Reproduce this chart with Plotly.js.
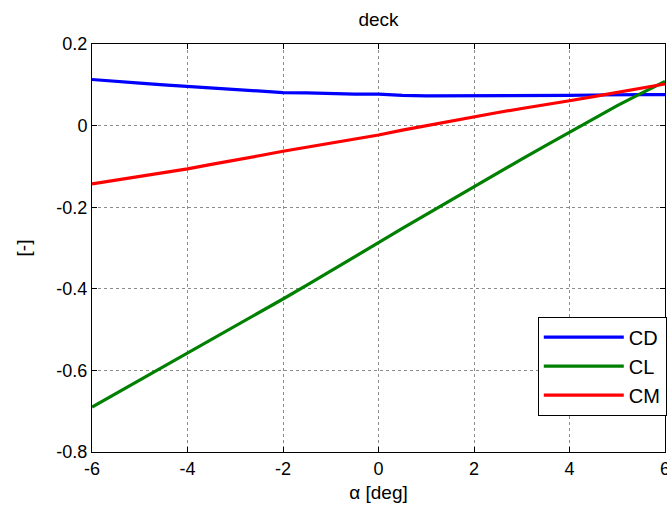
<!DOCTYPE html>
<html>
<head>
<meta charset="utf-8">
<script src="https://cdn.plot.ly/plotly-3.0.1.min.js"></script>
<style>html,body{margin:0;padding:0;background:#fff;}#chart{width:667px;height:514px;}</style>
</head>
<body>
<div id="chart"></div>
<script>
const alpha = [-6,-5.5,-5,-4.5,-4,-3.5,-3,-2.5,-2,-1.5,-1,-0.5,0,0.5,1,1.5,2,2.5,3,3.5,4,4.5,5,5.5,6];
const CD = [0.113,0.108,0.104,0.100,0.096,0.092,0.088,0.085,0.081,0.080,0.078,0.077,0.077,0.074,0.073,0.073,0.073,0.073,0.073,0.073,0.074,0.075,0.076,0.076,0.076];
const CL = [-0.690,-0.657,-0.624,-0.591,-0.559,-0.525,-0.491,-0.458,-0.425,-0.391,-0.357,-0.322,-0.287,-0.252,-0.218,-0.183,-0.148,-0.115,-0.082,-0.049,-0.016,0.017,0.049,0.079,0.108];
const CM = [-0.143,-0.134,-0.125,-0.116,-0.106,-0.095,-0.085,-0.074,-0.063,-0.053,-0.043,-0.033,-0.023,-0.011,0.000,0.011,0.022,0.032,0.042,0.051,0.061,0.071,0.081,0.092,0.102];
const xTicks = [-6,-4,-2,0,2,4,6];
const yTicks = [-0.8,-0.6,-0.4,-0.2,0,0.2];
const yTickText = ['-0.8','-0.6','-0.4','-0.2','0','0.2'];

const font = 'Liberation Sans, Arial, sans-serif';
const traces = [
  {x: alpha, y: CD, name: 'CD', mode: 'lines', line: {color: '#0000ff', width: 3.2}},
  {x: alpha, y: CL, name: 'CL', mode: 'lines', line: {color: '#008000', width: 3.2}},
  {x: alpha, y: CM, name: 'CM', mode: 'lines', line: {color: '#ff0000', width: 3.2}}
];
const axisCommon = {
  showline: true, linecolor: '#000', linewidth: 1, mirror: 'ticks',
  ticks: 'inside', ticklen: 5, tickwidth: 1, tickcolor: '#000',
  showgrid: true, gridcolor: '#8c8c8c', griddash: 'dot', gridwidth: 1,
  zeroline: false, tickfont: {family: font, size: 18, color: '#000'},
  ticklabeloverflow: 'allow', automargin: false
};
const layout = {
  width: 667, height: 514,
  margin: {l: 92, r: 2, t: 44, b: 62, autoexpand: false},
  paper_bgcolor: '#fff', plot_bgcolor: '#fff',
  showlegend: true,
  title: {text: 'deck', font: {family: font, size: 19, color: '#000'}, x: 0.5, xref: 'paper', y: 0.962, yref: 'container', yanchor: 'middle'},
  xaxis: Object.assign({}, axisCommon, {range: [-6, 6], tickvals: xTicks, ticktext: xTicks.map(String),
    title: {text: 'α [deg]', font: {family: font, size: 19, color: '#000'}, standoff: 8}}),
  yaxis: Object.assign({}, axisCommon, {range: [-0.8, 0.2], tickvals: yTicks, ticktext: yTickText,
    title: {text: '[-]', font: {family: font, size: 19, color: '#000'}, standoff: 20}}),
  legend: {x: 0.778, y: 0.332, xanchor: 'left', yanchor: 'top', bgcolor: '#fff', bordercolor: '#000', borderwidth: 1,
    font: {family: font, size: 20, color: '#000'}, itemwidth: 80, tracegroupgap: 0}
};
Plotly.newPlot('chart', traces, layout, {displayModeBar: false, staticPlot: true});
</script>
</body>
</html>
